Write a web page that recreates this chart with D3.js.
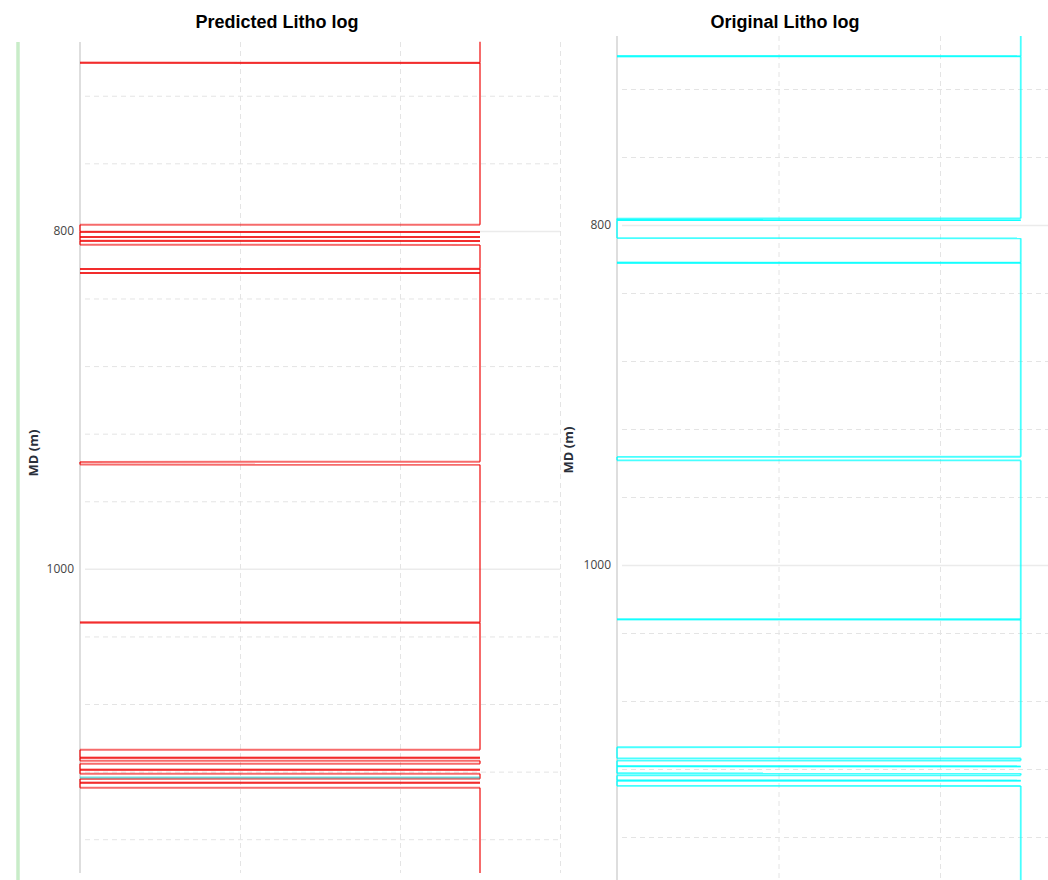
<!DOCTYPE html>
<html><head><meta charset="utf-8">
<script src="https://cdn.jsdelivr.net/npm/d3@7"></script>
<style>
html,body{margin:0;padding:0;background:#fff;overflow:hidden;}
svg{display:block;}
</style></head>
<body>
<svg id="chart" width="1048" height="880"></svg>
<script>
// ---- data ----
const panelTitles = ["Predicted Litho log", "Original Litho log"];
const axisTitle = "MD (m)";
const majorTicks = [800, 1000];
const minorTicks = [720, 760, 840, 880, 920, 960, 1040, 1080, 1120, 1160];
const xGridTicks = [0, 1, 2, 3];
const HI = 2.5, LO = 0;

// Predicted litho log samples (depth m, litho code)
const predDepth = [688,
  700.5, 700.55, 700.6,
  796.3, 796.4,
  800.55, 800.6, 800.65,
  803.55, 803.6, 803.65,
  805.85, 805.9, 805.95,
  808.2, 808.3,
  822.45, 822.5, 822.55,
  824.85, 824.9, 824.95,
  936.6, 936.7, 938.3, 938.4,
  1031.75, 1031.8, 1031.85,
  1107.0, 1107.1,
  1111.75, 1111.8, 1111.85,
  1113.5, 1113.6,
  1115.3, 1115.4,
  1118.85, 1118.9, 1118.95,
  1121.2, 1121.3,
  1124.2, 1124.3,
  1126.55, 1126.6, 1126.65,
  1129.5, 1129.6,
  1180];
const predCode = [HI,
  HI, LO, HI,
  HI, LO,
  LO, HI, LO,
  LO, HI, LO,
  LO, HI, LO,
  LO, HI,
  HI, LO, HI,
  HI, LO, HI,
  HI, LO, LO, HI,
  HI, LO, HI,
  HI, LO,
  LO, HI, LO,
  LO, HI,
  HI, LO,
  LO, HI, LO,
  LO, HI,
  HI, LO,
  LO, HI, LO,
  LO, HI,
  HI];
// a single mismatched sample shown in cyan on the predicted track
const predMixDepth = [1123.5, 1123.5];
const predMixCode = [LO, HI];

// Original litho log samples
const origDepth = [688.8,
  700.65, 700.7, 700.75,
  796.1, 796.2,
  797.05, 797.1, 797.15,
  807.7, 807.8,
  822.15, 822.2, 822.25,
  936.3, 936.4, 938.4, 938.5,
  1031.95, 1032.0, 1032.05,
  1107.1, 1107.2,
  1113.7, 1113.8,
  1115.0, 1115.1,
  1118.35, 1118.4, 1118.45,
  1122.5, 1122.6,
  1123.7, 1123.8,
  1126.75, 1126.8, 1126.85,
  1129.9, 1130.0,
  1191];
const origCode = [HI,
  HI, LO, HI,
  HI, LO,
  LO, HI, LO,
  LO, HI,
  HI, LO, HI,
  HI, LO, LO, HI,
  HI, LO, HI,
  HI, LO,
  LO, HI,
  HI, LO,
  LO, HI, LO,
  LO, HI,
  HI, LO,
  LO, HI, LO,
  LO, HI,
  HI];

// ---- drawing ----
const svg = d3.select("#chart");

// faint green edge from neighbouring track
svg.append("line").attr("x1", 18).attr("x2", 18).attr("y1", 42).attr("y2", 880)
  .attr("stroke", "#c8ecc8").attr("stroke-width", 3.5);

const panels = [
  {title: panelTitles[0], titleX: 277, x0: 80, x1: 560, y0: 42, y1: 873, dom: [688.2, 1180], axisX: 35, axisY: 453,
   series: [{d: predDepth, c: predCode, color: "rgb(240,0,0)", op: 0.58, w: 2},
            {d: predMixDepth, c: predMixCode, color: "rgb(0,190,190)", op: 0.55, w: 2}]},
  {title: panelTitles[1], titleX: 785, x0: 617, x1: 1101.5, y0: 36, y1: 889.7, dom: [688.8, 1191], axisX: 570, axisY: 450,
   series: [{d: origDepth, c: origCode, color: "rgb(0,255,255)", op: 0.72, w: 1.8}]}
];

panels.forEach(p => {
  const x = d3.scaleLinear().domain([0, 3]).range([p.x0, p.x1]);
  const y = d3.scaleLinear().domain(p.dom).range([p.y0, p.y1]);
  const g = svg.append("g");
  const w = p.x1 - p.x0;

  // minor horizontal grid (dashed)
  g.append("g").attr("transform", `translate(${p.x0},0)`)
    .call(d3.axisLeft(y).tickValues(minorTicks).tickSize(-w).tickFormat("").tickSizeOuter(0))
    .call(s => s.select(".domain").remove())
    .call(s => s.selectAll("line").attr("x1", 5).attr("stroke", "#e4e4e4").attr("stroke-dasharray", "5,4"));
  // vertical grid (dashed)
  g.append("g").attr("transform", `translate(0,${p.y0})`)
    .call(d3.axisBottom(x).tickValues(xGridTicks.slice(1)).tickSize(p.y1 - p.y0).tickFormat("").tickSizeOuter(0))
    .call(s => s.select(".domain").remove())
    .call(s => s.selectAll("line").attr("stroke", "#e4e4e4").attr("stroke-dasharray", "5,4"));
  // major horizontal grid (solid) + labels
  g.append("g").attr("transform", `translate(${p.x0},0)`)
    .call(d3.axisLeft(y).tickValues(majorTicks).tickSize(-w).tickFormat(d3.format("d")).tickPadding(6).tickSizeOuter(0))
    .call(s => s.select(".domain").remove())
    .call(s => s.selectAll("line").attr("x1", 5).attr("stroke", "#ebebeb").attr("stroke-width", 1.5))
    .call(s => s.selectAll("text").attr("font-family", "'Open Sans', sans-serif").attr("font-size", 12)
      .attr("fill", "#444"));
  // zero axis line
  g.append("line").attr("x1", x(0)).attr("x2", x(0)).attr("y1", p.y0).attr("y2", p.y1)
    .attr("stroke", "#dedede").attr("stroke-width", 2);

  // log curves, drawn as consecutive sample-to-sample segments
  p.series.forEach(s => {
    const segs = d3.pairs(s.d.map((d, i) => [s.c[i], d]));
    g.append("g").selectAll("line").data(segs).join("line")
      .attr("x1", d => x(d[0][0])).attr("y1", d => y(d[0][1]))
      .attr("x2", d => x(d[1][0])).attr("y2", d => y(d[1][1]))
      .attr("stroke", s.color).attr("stroke-opacity", s.op).attr("stroke-width", s.w)
      .attr("stroke-linecap", "butt");
  });

  // axis title
  g.append("text").attr("transform", `translate(${p.axisX},${p.axisY}) rotate(-90)`)
    .attr("text-anchor", "middle").attr("dominant-baseline", "middle")
    .attr("font-family", "'Open Sans', sans-serif").attr("font-weight", "bold")
    .attr("font-size", 13).attr("fill", "#2a2f3a").text(axisTitle);

  // panel title
  svg.append("text").attr("x", p.titleX).attr("y", 28).attr("text-anchor", "middle")
    .attr("font-family", "'Liberation Sans', Arial, sans-serif").attr("font-weight", "bold")
    .attr("font-size", 18).attr("fill", "#000").text(p.title);
});
</script>
</body></html>
